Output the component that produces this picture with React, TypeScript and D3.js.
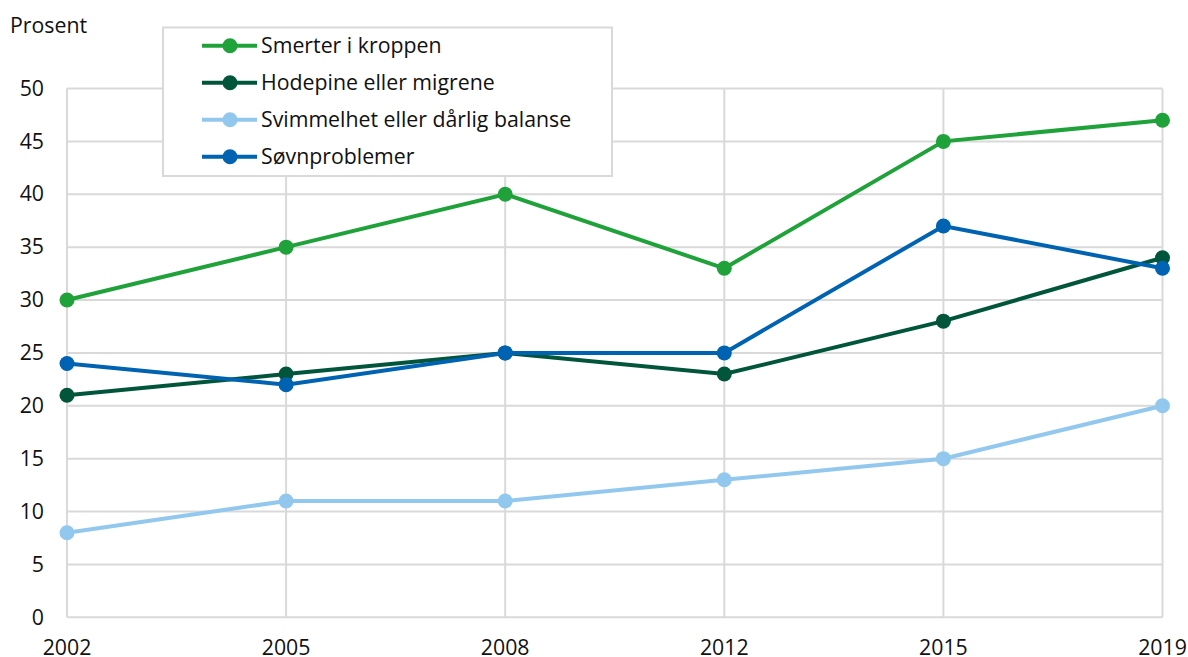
import React from "react";
import * as d3 from "d3";

const years = ["2002", "2005", "2008", "2012", "2015", "2019"];
const smerter = [30, 35, 40, 33, 45, 47];
const hodepine = [21, 23, 25, 23, 28, 34];
const svimmelhet = [8, 11, 11, 13, 15, 20];
const sovn = [24, 22, 25, 25, 37, 33];
const yTicks = [0, 5, 10, 15, 20, 25, 30, 35, 40, 45, 50];

const seriesNames = [
  "Smerter i kroppen",
  "Hodepine eller migrene",
  "Svimmelhet eller dårlig balanse",
  "Søvnproblemer",
];
const seriesValues = [smerter, hodepine, svimmelhet, sovn];
const colors = ["#20a23a", "#00553b", "#93c8ee", "#0063b1"];

const W = 1188;
const H = 657;
const FONT = "'Open Sans', sans-serif";
const FS = 21.3;

export default function App() {
  const x = d3.scalePoint<string>().domain(years).range([67, 1162.5]);
  const y = d3.scaleLinear().domain([0, 50]).range([617.3, 88.5]);
  const line = d3
    .line<number>()
    .x((_, i) => x(years[i]) as number)
    .y((d) => y(d));

  return (
    <svg
      width={W}
      height={H}
      style={{ position: "absolute", left: 0, top: 0, background: "#fff" }}
      fontFamily={FONT}
    >
      {yTicks.map((t) => (
        <line
          key={"h" + t}
          x1={x(years[0])}
          x2={x(years[years.length - 1])}
          y1={y(t)}
          y2={y(t)}
          stroke="#d9d9d9"
          strokeWidth={2}
        />
      ))}
      {years.map((yr) => (
        <line
          key={"v" + yr}
          x1={x(yr)}
          x2={x(yr)}
          y1={y(0)}
          y2={y(50)}
          stroke="#d9d9d9"
          strokeWidth={2}
        />
      ))}
      {yTicks.map((t) => (
        <text key={"yl" + t} x={44} y={y(t) + 7.2} textAnchor="end" fontSize={FS} fill="#111">
          {t}
        </text>
      ))}
      {years.map((yr) => (
        <text key={"xl" + yr} x={x(yr)} y={655} textAnchor="middle" fontSize={FS} fill="#111">
          {yr}
        </text>
      ))}
      <text x={10} y={33} fontSize={FS} fill="#111">
        Prosent
      </text>
      {seriesValues.map((vals, si) => (
        <g key={"s" + si}>
          <path d={line(vals) || ""} fill="none" stroke={colors[si]} strokeWidth={4} />
          {vals.map((v, i) => (
            <circle key={i} cx={x(years[i])} cy={y(v)} r={7.5} fill={colors[si]} />
          ))}
        </g>
      ))}
      <rect x={163} y={27.5} width={449} height={148.5} fill="#fff" stroke="#d9d9d9" strokeWidth={2} />
      {seriesNames.map((name, i) => {
        const cy = 45.7 + i * 37;
        return (
          <g key={"lg" + i}>
            <line x1={202} x2={257} y1={cy} y2={cy} stroke={colors[i]} strokeWidth={4} />
            <circle cx={230} cy={cy} r={7.5} fill={colors[i]} />
            <text x={261} y={cy + 7.5} fontSize={FS} fill="#111">
              {name}
            </text>
          </g>
        );
      })}
    </svg>
  );
}
